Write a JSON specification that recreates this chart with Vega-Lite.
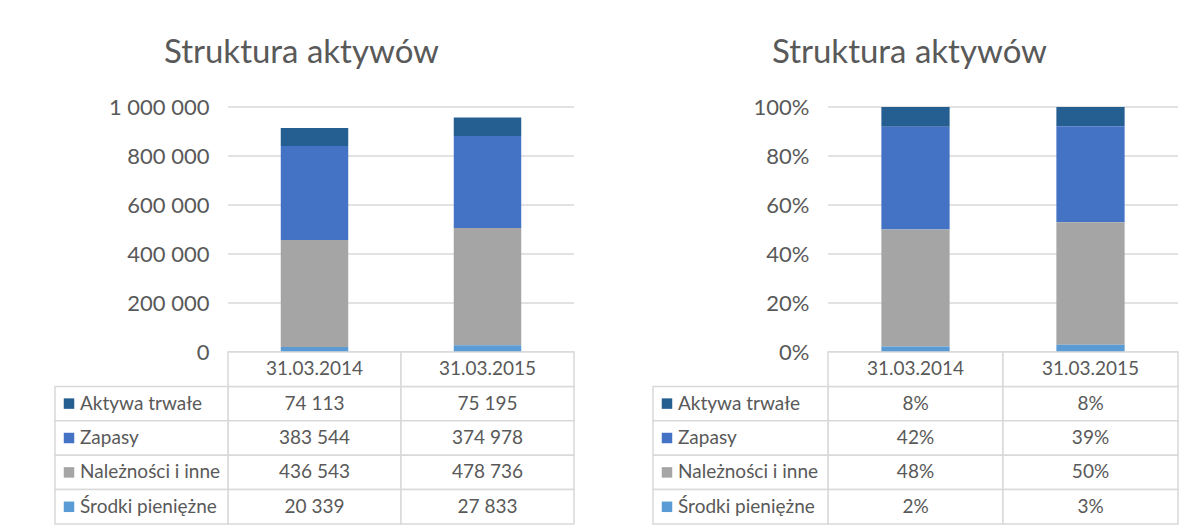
{
  "$schema": "https://vega.github.io/schema/vega-lite/v6.json",
  "background": "white",
  "padding": {"left": 54, "top": 37, "right": 0, "bottom": 0},
  "spacing": 77,
  "datasets": {
    "d": [
      {"date": "31.03.2014", "series": "Aktywa trwałe", "value": 74113, "pct": 0.08, "rank": 4},
      {"date": "31.03.2014", "series": "Zapasy", "value": 383544, "pct": 0.42, "rank": 3},
      {"date": "31.03.2014", "series": "Należności i inne", "value": 436543, "pct": 0.48, "rank": 2},
      {"date": "31.03.2014", "series": "Środki pieniężne", "value": 20339, "pct": 0.02, "rank": 1},
      {"date": "31.03.2015", "series": "Aktywa trwałe", "value": 75195, "pct": 0.08, "rank": 4},
      {"date": "31.03.2015", "series": "Zapasy", "value": 374978, "pct": 0.39, "rank": 3},
      {"date": "31.03.2015", "series": "Należności i inne", "value": 478736, "pct": 0.50, "rank": 2},
      {"date": "31.03.2015", "series": "Środki pieniężne", "value": 27833, "pct": 0.03, "rank": 1}
    ],
    "grid1": [
      {"date": "31.03.2014", "g": 0}, {"date": "31.03.2015", "g": 0},
      {"date": "31.03.2014", "g": 200000}, {"date": "31.03.2015", "g": 200000},
      {"date": "31.03.2014", "g": 400000}, {"date": "31.03.2015", "g": 400000},
      {"date": "31.03.2014", "g": 600000}, {"date": "31.03.2015", "g": 600000},
      {"date": "31.03.2014", "g": 800000}, {"date": "31.03.2015", "g": 800000},
      {"date": "31.03.2014", "g": 1000000}, {"date": "31.03.2015", "g": 1000000}
    ],
    "grid2": [
      {"date": "31.03.2014", "g": 0}, {"date": "31.03.2015", "g": 0},
      {"date": "31.03.2014", "g": 0.2}, {"date": "31.03.2015", "g": 0.2},
      {"date": "31.03.2014", "g": 0.4}, {"date": "31.03.2015", "g": 0.4},
      {"date": "31.03.2014", "g": 0.6}, {"date": "31.03.2015", "g": 0.6},
      {"date": "31.03.2014", "g": 0.8}, {"date": "31.03.2015", "g": 0.8},
      {"date": "31.03.2014", "g": 1}, {"date": "31.03.2015", "g": 1}
    ]
  },
  "hconcat": [
    {
      "title": {"text": "Struktura aktywów", "fontSize": 33, "font": "Lato", "fontWeight": "normal", "color": "#595959", "anchor": "middle", "dx": -13, "offset": 26},
      "spacing": 0,
      "bounds": "flush",
      "vconcat": [
        {
          "width": 519,
          "height": 245,
          "layer": [
            {
              "data": {"name": "grid1"},
              "mark": {"type": "rect", "fill": "transparent", "stroke": "#d9d9d9", "strokeWidth": 1.5},
              "encoding": {
                "x": {"field": "date", "type": "nominal", "axis": null, "scale": {"domain": ["label", "31.03.2014", "31.03.2015"], "paddingInner": 0, "paddingOuter": 0}},
                "y": {"field": "g", "type": "quantitative", "scale": {"domain": [0, 1000000]},
                  "axis": {"values": [0, 200000, 400000, 600000, 800000, 1000000], "format": ",d", "title": null, "offset": -173}},
                "y2": {"field": "g"}
              }
            },
            {
              "data": {"name": "d"},
              "mark": {"type": "bar", "width": {"band": 0.39}},
              "encoding": {
                "x": {"field": "date", "type": "nominal"},
                "y": {"field": "value", "type": "quantitative"},
                "color": {"field": "series", "type": "nominal", "legend": null,
                  "scale": {"domain": ["Aktywa trwałe", "Zapasy", "Należności i inne", "Środki pieniężne"], "range": ["#255e91", "#4472c4", "#a5a5a5", "#5b9bd5"]}},
                "order": {"field": "rank", "type": "quantitative"}
              }
            }
          ]
        },
        {
          "width": 519,
          "height": 172,
          "data": {"name": "d"},
          "layer": [
            {
              "mark": {"type": "rect", "fill": "white", "stroke": "#d9d9d9", "strokeWidth": 1.5},
              "encoding": {
                "x": {"field": "date", "type": "nominal", "axis": null, "scale": {"domain": ["label", "31.03.2014", "31.03.2015"], "paddingInner": 0, "paddingOuter": 0}},
                "y": {"field": "series", "type": "nominal", "axis": null, "scale": {"domain": ["hdr", "Aktywa trwałe", "Zapasy", "Należności i inne", "Środki pieniężne"], "paddingInner": 0, "paddingOuter": 0}}
              }
            },
            {
              "transform": [{"filter": "datum.date == '31.03.2014'"}],
              "mark": {"type": "rect", "fill": "white", "stroke": "#d9d9d9", "strokeWidth": 1.5},
              "encoding": {
                "x": {"datum": "label", "type": "nominal"},
                "y": {"field": "series", "type": "nominal"}
              }
            },
            {
              "transform": [{"filter": "datum.series == 'Aktywa trwałe'"}],
              "mark": {"type": "rect", "fill": "white", "stroke": "#d9d9d9", "strokeWidth": 1.5},
              "encoding": {
                "x": {"field": "date", "type": "nominal"},
                "y": {"datum": "hdr", "type": "nominal"}
              }
            },
            {
              "transform": [{"filter": "datum.series == 'Aktywa trwałe'"}],
              "mark": {"type": "text", "font": "Lato", "fontSize": 19, "color": "#595959"},
              "encoding": {
                "x": {"field": "date", "type": "nominal"},
                "y": {"datum": "hdr", "type": "nominal"},
                "text": {"field": "date"}
              }
            },
            {
              "mark": {"type": "text", "font": "Lato", "fontSize": 19, "color": "#595959"},
              "encoding": {
                "x": {"field": "date", "type": "nominal"},
                "y": {"field": "series", "type": "nominal"},
                "text": {"field": "value", "type": "quantitative", "format": ",d"}
              }
            },
            {
              "transform": [{"filter": "datum.date == '31.03.2014'"}],
              "mark": {"type": "point", "shape": "square", "filled": true, "opacity": 1, "size": 110, "xOffset": 14},
              "encoding": {
                "x": {"datum": "label", "type": "nominal", "bandPosition": 0},
                "y": {"field": "series", "type": "nominal"},
                "color": {"field": "series", "type": "nominal", "legend": null,
                  "scale": {"domain": ["Aktywa trwałe", "Zapasy", "Należności i inne", "Środki pieniężne"], "range": ["#255e91", "#4472c4", "#a5a5a5", "#5b9bd5"]}}
              }
            },
            {
              "transform": [{"filter": "datum.date == '31.03.2014'"}],
              "mark": {"type": "text", "font": "Lato", "fontSize": 19, "color": "#595959", "align": "left", "dx": 25},
              "encoding": {
                "x": {"datum": "label", "type": "nominal", "bandPosition": 0},
                "y": {"field": "series", "type": "nominal"},
                "text": {"field": "series"}
              }
            }
          ]
        }
      ]
    },
    {
      "title": {"text": "Struktura aktywów", "fontSize": 33, "font": "Lato", "fontWeight": "normal", "color": "#595959", "anchor": "middle", "dx": -6, "offset": 26},
      "spacing": 0,
      "bounds": "flush",
      "vconcat": [
        {
          "width": 525,
          "height": 245,
          "layer": [
            {
              "data": {"name": "grid2"},
              "mark": {"type": "rect", "fill": "transparent", "stroke": "#d9d9d9", "strokeWidth": 1.5},
              "encoding": {
                "x": {"field": "date", "type": "nominal", "axis": null, "scale": {"domain": ["label", "31.03.2014", "31.03.2015"], "paddingInner": 0, "paddingOuter": 0}},
                "y": {"field": "g", "type": "quantitative", "scale": {"domain": [0, 1]},
                  "axis": {"values": [0, 0.2, 0.4, 0.6, 0.8, 1], "format": ".0%", "title": null, "offset": -175}},
                "y2": {"field": "g"}
              }
            },
            {
              "data": {"name": "d"},
              "mark": {"type": "bar", "width": {"band": 0.39}},
              "encoding": {
                "x": {"field": "date", "type": "nominal"},
                "y": {"field": "value", "type": "quantitative", "stack": "normalize"},
                "color": {"field": "series", "type": "nominal", "legend": null,
                  "scale": {"domain": ["Aktywa trwałe", "Zapasy", "Należności i inne", "Środki pieniężne"], "range": ["#255e91", "#4472c4", "#a5a5a5", "#5b9bd5"]}},
                "order": {"field": "rank", "type": "quantitative"}
              }
            }
          ]
        },
        {
          "width": 525,
          "height": 172,
          "data": {"name": "d"},
          "layer": [
            {
              "mark": {"type": "rect", "fill": "white", "stroke": "#d9d9d9", "strokeWidth": 1.5},
              "encoding": {
                "x": {"field": "date", "type": "nominal", "axis": null, "scale": {"domain": ["label", "31.03.2014", "31.03.2015"], "paddingInner": 0, "paddingOuter": 0}},
                "y": {"field": "series", "type": "nominal", "axis": null, "scale": {"domain": ["hdr", "Aktywa trwałe", "Zapasy", "Należności i inne", "Środki pieniężne"], "paddingInner": 0, "paddingOuter": 0}}
              }
            },
            {
              "transform": [{"filter": "datum.date == '31.03.2014'"}],
              "mark": {"type": "rect", "fill": "white", "stroke": "#d9d9d9", "strokeWidth": 1.5},
              "encoding": {
                "x": {"datum": "label", "type": "nominal"},
                "y": {"field": "series", "type": "nominal"}
              }
            },
            {
              "transform": [{"filter": "datum.series == 'Aktywa trwałe'"}],
              "mark": {"type": "rect", "fill": "white", "stroke": "#d9d9d9", "strokeWidth": 1.5},
              "encoding": {
                "x": {"field": "date", "type": "nominal"},
                "y": {"datum": "hdr", "type": "nominal"}
              }
            },
            {
              "transform": [{"filter": "datum.series == 'Aktywa trwałe'"}],
              "mark": {"type": "text", "font": "Lato", "fontSize": 19, "color": "#595959"},
              "encoding": {
                "x": {"field": "date", "type": "nominal"},
                "y": {"datum": "hdr", "type": "nominal"},
                "text": {"field": "date"}
              }
            },
            {
              "mark": {"type": "text", "font": "Lato", "fontSize": 19, "color": "#595959"},
              "encoding": {
                "x": {"field": "date", "type": "nominal"},
                "y": {"field": "series", "type": "nominal"},
                "text": {"field": "pct", "type": "quantitative", "format": ".0%"}
              }
            },
            {
              "transform": [{"filter": "datum.date == '31.03.2014'"}],
              "mark": {"type": "point", "shape": "square", "filled": true, "opacity": 1, "size": 110, "xOffset": 14},
              "encoding": {
                "x": {"datum": "label", "type": "nominal", "bandPosition": 0},
                "y": {"field": "series", "type": "nominal"},
                "color": {"field": "series", "type": "nominal", "legend": null,
                  "scale": {"domain": ["Aktywa trwałe", "Zapasy", "Należności i inne", "Środki pieniężne"], "range": ["#255e91", "#4472c4", "#a5a5a5", "#5b9bd5"]}}
              }
            },
            {
              "transform": [{"filter": "datum.date == '31.03.2014'"}],
              "mark": {"type": "text", "font": "Lato", "fontSize": 19, "color": "#595959", "align": "left", "dx": 25},
              "encoding": {
                "x": {"datum": "label", "type": "nominal", "bandPosition": 0},
                "y": {"field": "series", "type": "nominal"},
                "text": {"field": "series"}
              }
            }
          ]
        }
      ]
    }
  ],
  "config": {
    "view": {"stroke": null},
    "font": "Lato",
    "locale": {"number": {"decimal": ",", "thousands": " ", "grouping": [3], "currency": ["", " zł"]}},
    "axis": {"grid": false, "domain": false, "ticks": false, "labelPadding": 19, "labelFontSize": 22, "labelColor": "#595959", "labelFont": "Lato"}
  }
}
